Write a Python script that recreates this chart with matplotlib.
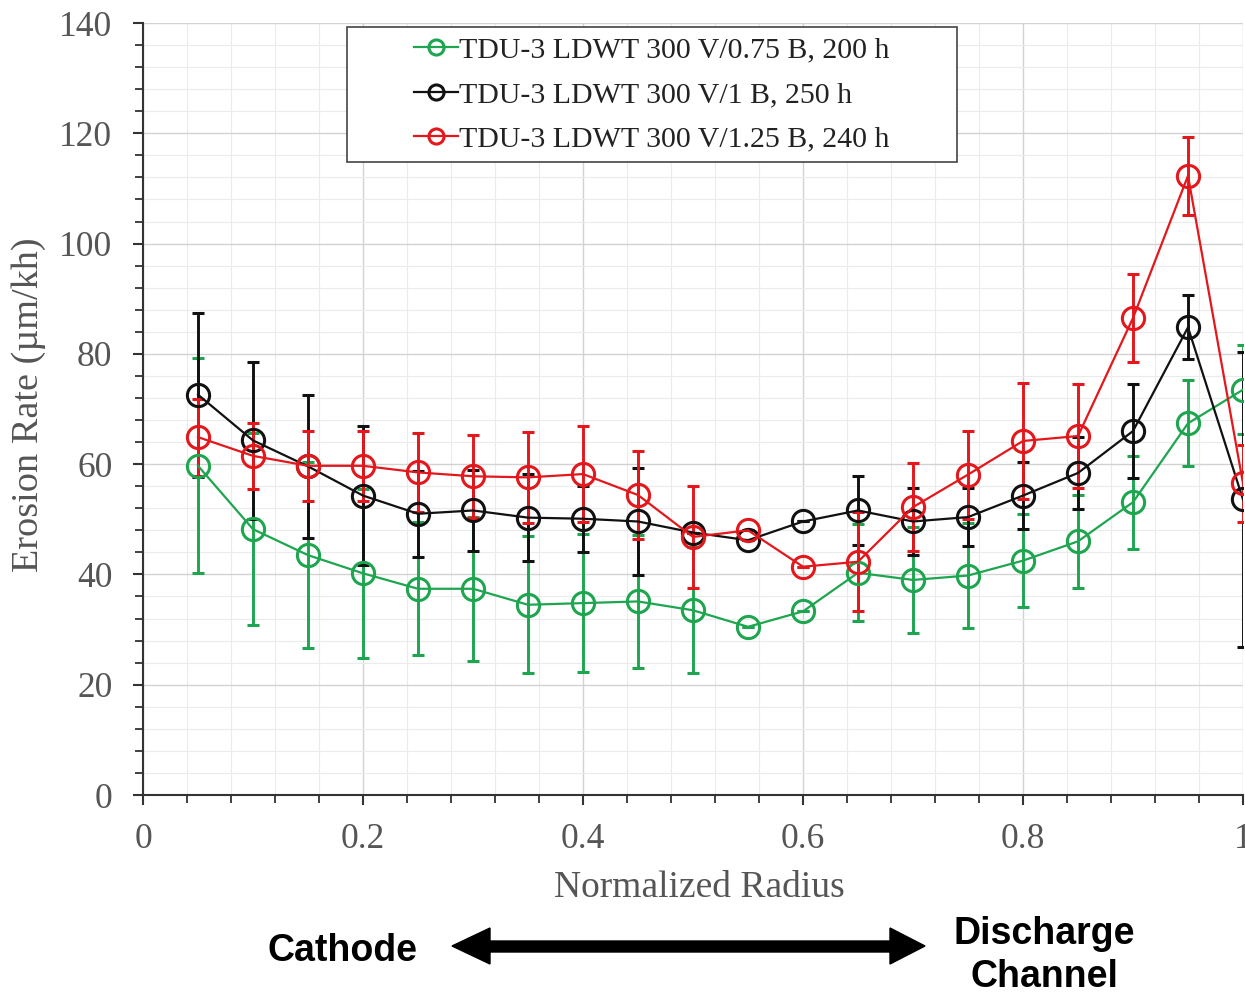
import matplotlib
matplotlib.use('Agg')
import matplotlib.pyplot as plt
from matplotlib.patches import Rectangle, Polygon
from matplotlib.ticker import MultipleLocator

# ---------------- data ----------------
radius = [0.05, 0.10, 0.15, 0.20, 0.25, 0.30, 0.35, 0.40, 0.45, 0.50,
          0.55, 0.60, 0.65, 0.70, 0.75, 0.80, 0.85, 0.90, 0.95, 1.00]

green_vals = [59.7, 48.2, 43.5, 40.2, 37.4, 37.4, 34.5, 34.8, 35.1, 33.5,
              30.5, 33.3, 40.3, 39.0, 39.8, 42.5, 46.0, 53.1, 67.4, 73.5]
green_err = [19.5, 17.4, 16.8, 15.3, 12.1, 13.1, 12.4, 12.5, 12.1, 11.4,
             0, 0, 8.8, 9.6, 9.6, 8.4, 8.4, 8.4, 7.8, 8.1]

black_vals = [72.6, 64.3, 59.6, 54.3, 51.0, 51.6, 50.3, 50.1, 49.6, 47.6,
              46.2, 49.6, 51.6, 49.6, 50.4, 54.3, 58.4, 66.0, 84.8, 53.6]
black_err = [14.9, 14.3, 13.0, 12.6, 7.8, 7.3, 7.9, 6.0, 9.7, 0,
             0, 0, 6.2, 6.1, 5.2, 6.0, 6.5, 8.6, 5.8, 26.7]

red_vals = [64.9, 61.5, 59.7, 59.7, 58.5, 57.8, 57.6, 58.2, 54.4, 46.8,
            48.0, 41.4, 42.3, 52.2, 58.1, 64.2, 65.1, 86.5, 112.3, 56.5]
red_err = [7.0, 6.0, 6.3, 6.3, 7.1, 7.5, 8.3, 8.7, 8.0, 9.3,
           0, 0, 9.0, 8.0, 8.0, 10.5, 9.5, 8.0, 7.1, 7.0]

series_labels = ["TDU-3 LDWT 300 V/0.75 B, 200 h",
                 "TDU-3 LDWT 300 V/1 B, 250 h",
                 "TDU-3 LDWT 300 V/1.25 B, 240 h"]
series_colors = ["#1ea54f", "#111111", "#e3171c"]

x_ticks = [0, 0.2, 0.4, 0.6, 0.8, 1.0]
x_tick_labels = ["0", "0.2", "0.4", "0.6", "0.8", "1"]
y_ticks = [0, 20, 40, 60, 80, 100, 120, 140]

# ---------------- figure ----------------
plt.rcParams['font.family'] = ['Liberation Serif', 'DejaVu Serif']

W, H = 1245, 994
fig = plt.figure(figsize=(W / 100, H / 100), dpi=100)
ax = fig.add_axes([143 / W, 199 / H, 1100 / W, 772 / H])

handles = []
for vals, errs, col in zip([green_vals, black_vals, red_vals],
                           [green_err, black_err, red_err], series_colors):
    eb = ax.errorbar(radius, vals, yerr=errs, color=col, ecolor=col,
                     lw=1.6, elinewidth=2.1, capsize=4, capthick=2.4,
                     marker='o', ms=16, mfc='none', mec=col, mew=2.2)
    handles.append(eb[0])

ax.set_xlim(0, 1.0)
ax.set_ylim(0, 140)
ax.set_xticks(x_ticks)
ax.set_xticklabels(x_tick_labels)
ax.set_yticks(y_ticks)
ax.xaxis.set_minor_locator(MultipleLocator(0.04))
ax.yaxis.set_minor_locator(MultipleLocator(4))

ax.grid(which='major', color='#d2d2d2', lw=1.0)
ax.grid(which='minor', color='#ebebeb', lw=0.8)
ax.set_axisbelow(True)

for s in ['top', 'right']:
    ax.spines[s].set_visible(False)
for s in ['left', 'bottom']:
    ax.spines[s].set_color('#333333')
    ax.spines[s].set_linewidth(1.5)

ax.tick_params(which='major', direction='out', length=7, width=1.5,
               color='#333333', labelsize=25.5, labelcolor='#555555')
ax.tick_params(axis='x', which='major', pad=13)
ax.tick_params(axis='y', which='major', pad=15)
ax.tick_params(which='minor', direction='out', length=6, width=1.3,
               color='#333333')

ax.set_xlabel("Normalized Radius", fontsize=27, color='#555555')
ax.set_ylabel("Erosion Rate (µm/kh)", fontsize=27.5, color='#555555')
ax.xaxis.set_label_coords((699 - 143) / 1100, (795 - 888) / 772)
ax.xaxis.label.set_va('center')
ax.yaxis.set_label_coords((29 - 143) / 1100, (795 - 405) / 772)
ax.yaxis.label.set_va('center')

# legend with rectangular frame
ax.add_patch(Rectangle(((347 - 143) / 1100, (795 - 162) / 772),
                       610 / 1100, 135 / 772, transform=ax.transAxes,
                       facecolor='white', edgecolor='#444444', lw=1.2,
                       zorder=5))
leg = ax.legend(handles, series_labels, loc='center',
                bbox_to_anchor=((652 - 143) / 1100, (795 - 94.5) / 772),
                frameon=False, fontsize=21.5, handlelength=1.45,
                handletextpad=0.05, labelspacing=0.6, markerscale=0.68)
leg.set_zorder(6)
for t in leg.get_texts():
    t.set_color('#222222')

# bottom annotation
def fy(py):
    return 1 - py / H

fig.text(343 / W, fy(951), "Cathode", family='Liberation Sans',
         weight='bold', fontsize=27, ha='center', va='center')
fig.text(1044 / W, fy(934), "Discharge", family='Liberation Sans',
         weight='bold', fontsize=27, ha='center', va='center')
fig.text(1044 / W, fy(977), "Channel", family='Liberation Sans',
         weight='bold', fontsize=27, ha='center', va='center')

arrow_px = [(452, 946), (490, 928), (490, 941), (890, 941), (890, 928),
            (925, 946), (890, 964), (890, 952), (490, 952), (490, 964)]
fig.patches.append(Polygon([(px / W, fy(py)) for px, py in arrow_px],
                           closed=True, transform=fig.transFigure,
                           facecolor='black', edgecolor='black'))

fig.savefig('out.png', dpi=100)
